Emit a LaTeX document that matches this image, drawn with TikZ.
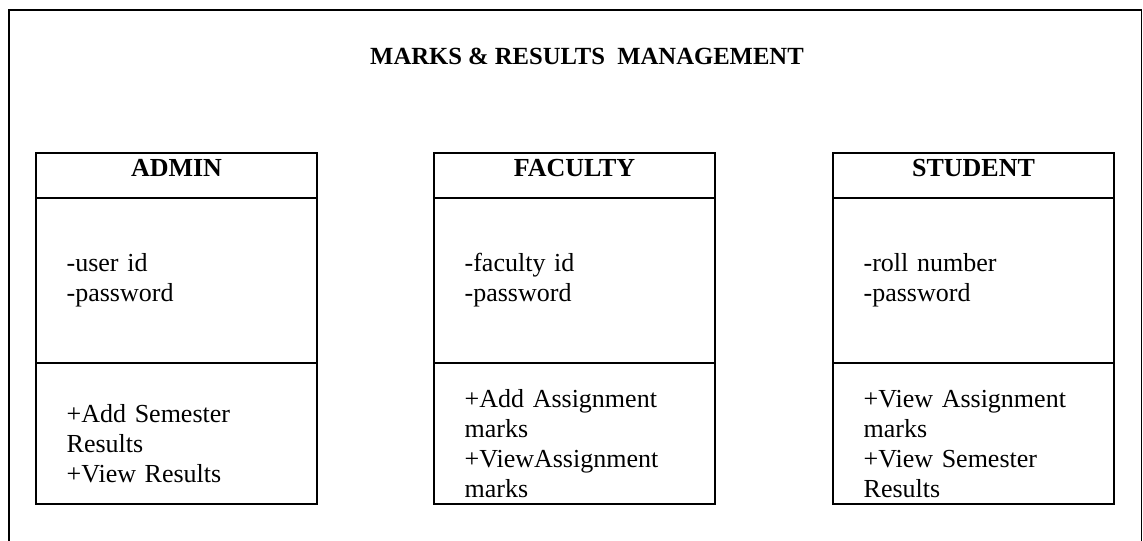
\documentclass[tikz,border=0pt]{standalone}
\usepackage{fontspec}
\setmainfont{Liberation Serif}
\usetikzlibrary{positioning}

\tikzset{
    part/.style = {draw, line width=1.2pt, minimum width=210.75pt, inner sep=0pt, outer sep=0pt},
    head/.style = {part, minimum height=33.75pt, text depth=12pt, font=\fontsize{19.5}{22}\selectfont\bfseries},
    attrs/.style = {part, minimum height=123.75pt, inner xsep=23pt, text width=164.75pt, align=left,
        font=\fontsize{19.5}{22.5}\selectfont},
    ops/.style = {attrs, minimum height=105.75pt},
}
% taller first line pushes the operations a little down
\newcommand{\firstline}{\rule{0pt}{29pt}}

\begin{document}
\begin{tikzpicture}[x=0.75pt, y=-0.75pt]
    \useasboundingbox (0, 0) rectangle (1143, 540);
    \draw[line width=1.2pt] (9, 560) -- (9, 10) -- (1141.5, 10) -- (1141.5, 560);

    \node[font=\fontsize{18.5}{22}\selectfont\bfseries] (title) at (587, 56) {MARKS \& RESULTS\ \ MANAGEMENT};

    % admin
    \node[head] (admin) at (176.5, 175.5) {ADMIN};
    \node[attrs, below=0pt of admin] (admin attr) {-user id\\-password};
    \node[ops, below=0pt of admin attr] (admin ops) {\firstline+Add Semester\\Results\\+View Results};

    % faculty
    \node[head, right=87.75pt of admin] (faculty) {FACULTY};
    \node[attrs, below=0pt of faculty] (faculty attr) {-faculty id\\-password};
    \node[ops, below=0pt of faculty attr] (faculty ops) {\firstline+Add Assignment\\marks\\+ViewAssignment\\marks};

    % student
    \node[head, right=88.5pt of faculty] (student) {STUDENT};
    \node[attrs, below=0pt of student] (student attr) {-roll number\\-password};
    \node[ops, below=0pt of student attr] (student ops) {\firstline+View Assignment\\marks\\+View Semester\\Results};
\end{tikzpicture}
\end{document}
